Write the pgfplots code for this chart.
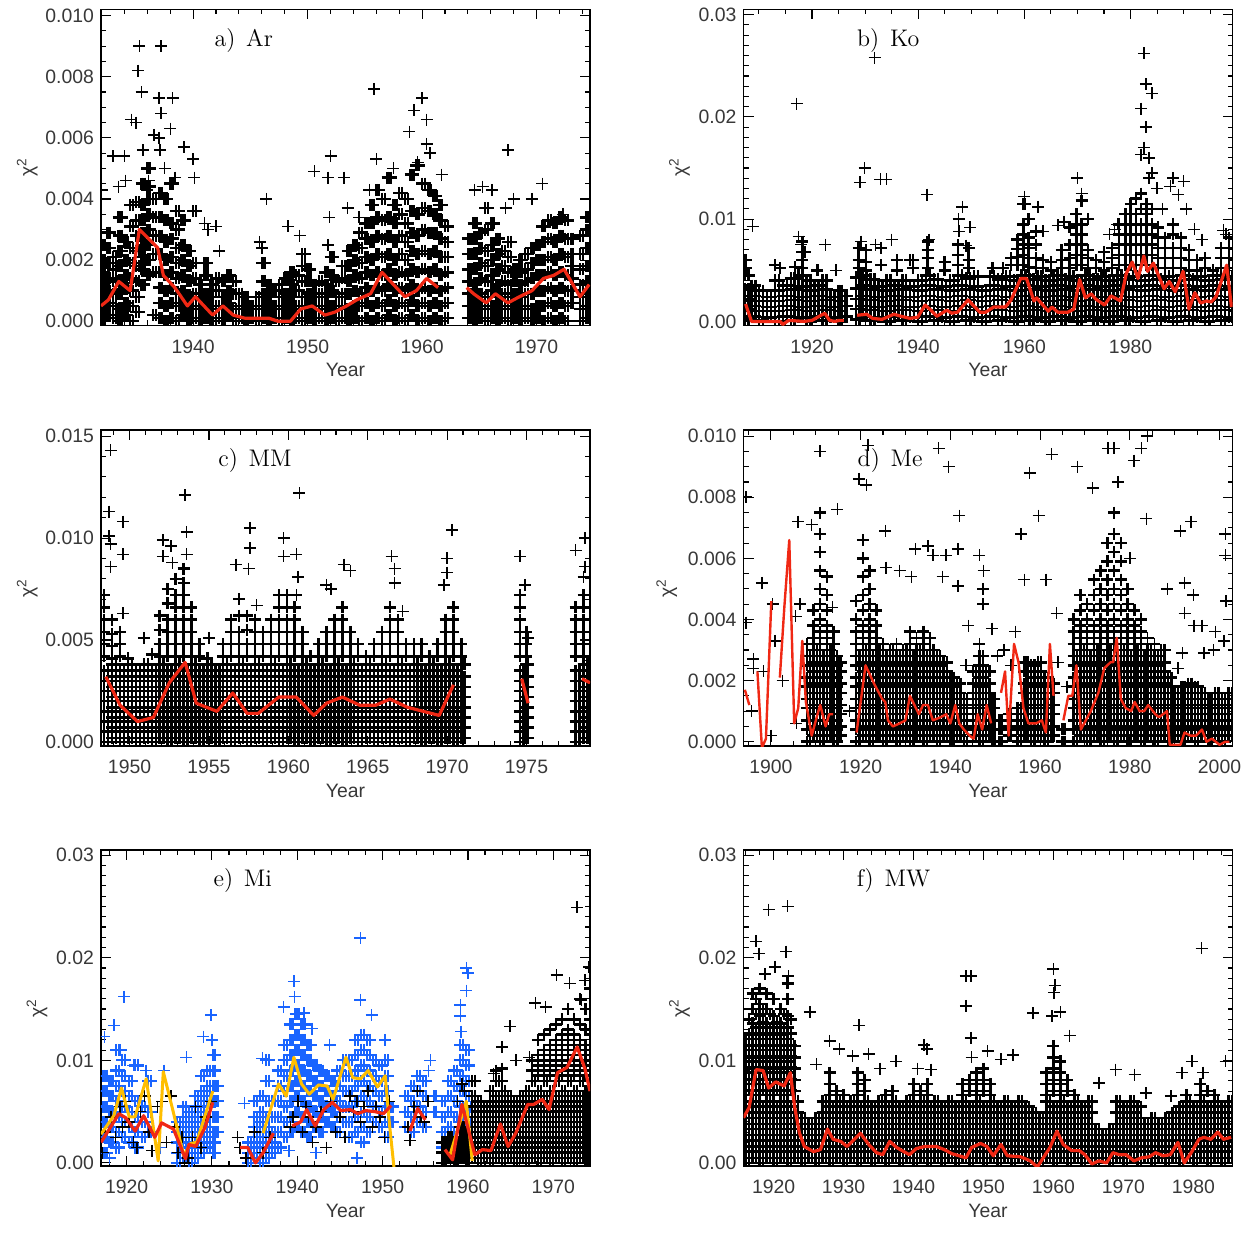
\documentclass[border=0pt]{standalone}
\usepackage{fontspec}
\usepackage{pgfplots}
\usepackage{pgfplotstable}
\pgfplotsset{compat=1.18}
\newfontfamily\tickfont{Liberation Sans}
\definecolor{redl}{RGB}{240,40,20}
\definecolor{bluep}{RGB}{25,100,255}
\definecolor{yell}{RGB}{255,190,0}
\pgfplotsset{
 panel/.style={
  scale only axis, width=244.5pt, height=158pt, anchor=south west,
  axis line style={line width=0.6pt},
  every tick/.style={black, line width=0.55pt},
  tick align=inside, major tick length=5pt, minor tick length=2.5pt,
  tick label style={font=\tickfont\fontsize{9.7}{11}\selectfont, text=black!78},
  /pgf/number format/assume math mode=true,
  x tick label style={/pgf/number format/1000 sep={}, yshift=-3.5pt},
  scaled y ticks=false,
  xlabel={Year}, ylabel={χ\textsuperscript{2}},
  label style={font=\tickfont\fontsize{9.7}{11}\selectfont, text=black!78},
  xlabel style={at={(axis description cs:0.5,-0.141)}, anchor=center},
  clip=true, clip marker paths=true,
 },
 yprec/.style={y tick label style={/pgf/number format/.cd, fixed, fixed zerofill, precision=#1}},
 ylx/.style={ylabel style={at={(axis description cs:#1,0.5)}, anchor=center}},
 pm/.style={only marks, mark=+, mark size=3pt, mark options={line width=0.75pt}, black},
 pmd/.style={only marks, mark=+, mark size=3pt, mark options={line width=1.25pt}, black},
 pb/.style={only marks, mark=+, mark size=3pt, mark options={line width=0.75pt}, bluep},
 pbd/.style={only marks, mark=+, mark size=3pt, mark options={line width=1.1pt}, bluep},
 rl/.style={mark=none, line width=1.6pt, redl, line join=round},
 yl/.style={mark=none, line width=1.5pt, yell, line join=round},
}
\newcommand{\plab}[2]{\node[font=\fontsize{12}{14}\selectfont] at (rel axis cs:#1,0.903) {#2};}

% ---------------- Panel a ----------------
\pgfplotstableread{
x u a b c d e f g h
1932.0 1932.25 .0000 .0004 .0008 .0012 .0016 .0020 .0025 nan
1932.5 1932.75 .0002 .0006 .0010 .0014 .0019 .0024 .0029 nan
1933.0 1933.25 .0001 .0005 .0009 .0013 .0017 .0021 nan nan
1933.5 1933.75 .0000 .0004 .0009 .0013 .0018 .0023 .0028 .0034
1934.0 1934.25 .0002 .0006 .0011 .0015 .0020 .0026 nan nan
1934.5 1934.75 .0000 .0005 .0010 .0014 .0019 .0024 .0031 .0038
1935.0 1935.25 .0003 .0008 .0013 .0018 .0023 .0028 .0033 .0039
1935.5 1935.75 .0012 .0017 .0021 .0025 .0029 .0033 .0038 .0045
1936.0 1936.25 .0015 .0020 .0025 .0030 .0035 .0040 .0044 .0050
1936.5 1936.75 .0002 .0016 .0022 .0028 .0034 .0040 nan nan
1937.0 1937.25 .0001 .0006 .0011 .0016 .0022 .0028 .0034 .0042
1937.5 1937.75 .0000 .0005 .0010 .0015 .0020 .0026 .0033 .0040
1938.0 1938.25 .0001 .0006 .0011 .0016 .0021 .0027 .0032 .0045
1938.5 1938.75 .0000 .0005 .0009 .0014 .0019 .0024 .0030 .0036
1939.0 1939.25 .0002 .0006 .0010 .0015 .0020 .0025 .0033 nan
1939.5 1939.75 .0000 .0004 .0008 .0013 .0018 .0023 nan nan
1940.0 1940.25 .0001 .0005 .0009 .0014 .0019 .0036 nan nan
1940.5 1940.75 .0000 .0004 .0008 .0012 nan nan nan nan
1941.0 1941.25 .0001 .0005 .0009 .0015 .0019 nan nan nan
1941.5 1941.75 .0000 .0004 .0008 .0012 nan nan nan nan
1942.0 1942.25 .0001 .0005 .0010 .0014 nan nan nan nan
1942.5 1942.75 .0000 .0004 .0008 .0013 nan nan nan nan
1943.0 1943.25 .0002 .0006 .0010 .0015 nan nan nan nan
1943.5 1943.75 .0000 .0004 .0009 .0013 nan nan nan nan
1944.0 1944.25 .0001 .0005 .0009 nan nan nan nan nan
1944.5 1944.75 .0000 .0004 .0008 nan nan nan nan nan
1945.0 1945.25 .0001 .0005 nan nan nan nan nan nan
1945.5 1945.75 .0000 .0004 .0008 nan nan nan nan nan
1946.0 1946.25 .0001 .0005 .0009 .0013 .0019 nan nan nan
1946.5 1946.75 .0000 .0004 .0008 .0012 nan nan nan nan
1947.0 1947.25 .0001 .0005 .0010 nan nan nan nan nan
1947.5 1947.75 .0000 .0004 .0008 .0012 nan nan nan nan
1948.0 1948.25 .0001 .0005 .0009 .0014 nan nan nan nan
1948.5 1948.75 .0000 .0004 .0008 .0012 .0016 nan nan nan
1949.0 1949.25 .0001 .0005 .0010 .0015 nan nan nan nan
1949.5 1949.75 .0000 .0004 .0008 .0013 .0018 .0022 nan nan
1950.0 1950.25 .0001 .0005 .0009 .0013 .0017 nan nan nan
1950.5 1950.75 .0000 .0004 .0008 .0012 nan nan nan nan
1951.0 1951.25 .0001 .0005 .0009 .0013 nan nan nan nan
1951.5 1951.75 .0000 .0004 .0008 .0012 .0016 nan nan nan
1952.0 1952.25 .0001 .0005 .0010 .0015 .0021 nan nan nan
1952.5 1952.75 .0000 .0004 .0008 .0013 nan nan nan nan
1953.0 1953.25 .0001 .0005 .0009 .0014 .0018 nan nan nan
1953.5 1953.75 .0000 .0004 .0009 .0013 .0018 .0023 nan nan
1954.0 1954.25 .0001 .0005 .0010 .0015 .0020 .0025 nan nan
1954.5 1954.75 .0000 .0005 .0009 .0014 .0019 .0024 .0029 nan
1955.0 1955.25 .0001 .0006 .0011 .0016 .0021 .0027 .0032 nan
1955.5 1955.75 .0000 .0005 .0010 .0015 .0020 .0026 .0032 .0038
1956.0 1956.25 .0001 .0006 .0011 .0016 .0022 .0028 .0034 .0043
1956.5 1956.75 .0000 .0005 .0010 .0015 .0021 .0027 .0033 .0040
1957.0 1957.25 .0002 .0007 .0012 .0017 .0022 .0028 .0034 .0047
1957.5 1957.75 .0000 .0005 .0010 .0015 .0020 .0026 .0032 .0038
1958.0 1958.25 .0001 .0006 .0011 .0016 .0022 .0028 .0035 .0042
1958.5 1958.75 .0000 .0005 .0010 .0015 .0020 .0026 .0032 .0040
1959.0 1959.25 .0002 .0007 .0012 .0017 .0023 .0029 .0036 .0048
1959.5 1959.75 .0000 .0005 .0010 .0016 .0022 .0028 .0035 .0051
1960.0 1960.25 .0001 .0006 .0011 .0017 .0023 .0030 .0037 .0045
1960.5 1960.75 .0000 .0005 .0010 .0016 .0022 .0029 .0036 .0043
1961.0 1961.25 .0001 .0006 .0011 .0017 .0023 .0029 .0035 .0041
1961.5 1961.75 .0000 .0005 .0010 .0015 .0021 .0027 .0033 .0038
1962.0 1962.25 .0001 .0006 .0011 .0016 .0021 .0026 .0031 nan
1964.0 1964.25 .0001 .0005 .0009 .0013 .0017 .0022 .0027 nan
1964.5 1964.75 .0000 .0004 .0008 .0012 .0017 .0022 .0027 .0032
1965.0 1965.25 .0001 .0005 .0009 .0014 .0019 .0024 .0029 nan
1965.5 1965.75 .0000 .0004 .0008 .0013 .0018 .0023 .0030 .0037
1966.0 1966.25 .0001 .0005 .0010 .0015 .0020 .0025 .0032 nan
1966.5 1966.75 .0000 .0004 .0008 .0012 .0017 .0022 .0027 nan
1967.0 1967.25 .0001 .0005 .0009 .0013 .0018 .0023 nan nan
1967.5 1967.75 .0000 .0004 .0008 .0012 .0016 .0021 .0026 nan
1968.0 1968.25 .0001 .0005 .0009 .0013 .0017 nan nan nan
1968.5 1968.75 .0000 .0004 .0008 .0012 .0016 .0020 nan nan
1969.0 1969.25 .0001 .0005 .0009 .0013 .0017 .0022 nan nan
1969.5 1969.75 .0000 .0004 .0009 .0014 .0019 .0024 nan nan
1970.0 1970.25 .0001 .0005 .0010 .0015 .0020 .0025 nan nan
1970.5 1970.75 .0000 .0005 .0010 .0015 .0020 .0026 .0031 nan
1971.0 1971.25 .0001 .0006 .0011 .0016 .0021 .0027 .0033 nan
1971.5 1971.75 .0000 .0005 .0010 .0015 .0020 .0026 .0032 nan
1972.0 1972.25 .0001 .0006 .0011 .0016 .0022 .0028 .0034 nan
1972.5 1972.75 .0000 .0005 .0010 .0015 .0021 .0027 .0033 nan
1973.0 1973.2 .0006 .0010 .0014 .0018 .0022 .0027 nan nan
1973.8 1974.05 .0000 .0004 .0008 .0012 .0017 .0022 .0028 nan
1974.3 1974.55 .0001 .0005 .0009 .0013 .0018 .0024 .0030 .0034
}\tA
\pgfplotstableread[row sep=\\]{
x y\\
1935.3 .0090\\1937.2 .0090\\1935.2 .0082\\1935.5 .0075\\1937.0 .0073\\1938.2 .0073\\
1937.2 .0068\\1934.6 .0066\\1935.0 .0065\\1938.0 .0063\\1936.6 .0061\\1937.0 .0060\\
1939.2 .0057\\1940.0 .0053\\1933.0 .0054\\1934.0 .0054\\1935.6 .0056\\1937.1 .0056\\
1934.1 .0046\\1933.5 .0044\\1937.5 .0050\\1940.1 .0047\\1938.4 .0047\\1936.1 .0046\\
1941.0 .0032\\1942.0 .0031\\1941.3 .0030\\1942.3 .0023\\1946.4 .0040\\1945.8 .0026\\
1946.0 .0024\\1948.3 .0031\\1949.3 .0028\\1950.6 .0049\\1952.0 .0054\\1951.8 .0047\\
1953.2 .0047\\1953.5 .0037\\1954.5 .0034\\1951.9 .0034\\1951.8 .0025\\1955.8 .0076\\
1956.0 .0053\\1955.4 .0043\\1958.9 .0062\\1959.3 .0069\\1960.0 .0073\\1960.4 .0066\\
1960.4 .0058\\1960.7 .0055\\1959.6 .0052\\1961.7 .0048\\1957.5 .0050\\1965.3 .0044\\
1964.6 .0043\\1966.1 .0043\\1965.8 .0037\\1967.5 .0056\\1968.0 .0040\\1967.3 .0037\\
1969.6 .0040\\1970.5 .0045\\1972.3 .0035\\1974.6 .0034\\1932.0 .0043\\1936.0 .0043\\
}\tAo

% ---------------- Panel b ----------------
\pgfplotstableread{
x u a b c d e
1907.3 1908.05 .0002 .0012 .0022 .0032 .0045
1908.6 1909.35 .0005 .0015 .0025 .0035 nan
1910.0 1910.75 .0001 .0010 .0020 .0030 nan
1911.5 1912.25 .0004 .0014 .0024 nan nan
1913.0 1913.75 .0000 .0010 .0020 .0030 .0040
1914.5 1915.25 .0005 .0015 .0025 .0035 nan
1916.0 1916.75 .0001 .0011 .0021 .0031 .0042
1917.5 1918.25 .0004 .0014 .0024 .0034 .0045
1919.0 1919.75 .0000 .0010 .0020 .0030 .0040
1920.5 1921.25 .0005 .0015 .0025 .0035 nan
1922.0 1922.75 .0001 .0011 .0021 .0031 .0040
1923.5 1924.25 .0004 .0014 .0024 nan nan
1925.0 1925.6 .0000 .0010 .0020 .0030 nan
1926.2 1926.6 .0005 .0015 .0025 nan nan
1928.3 1928.9 .0002 .0012 .0022 .0032 .0043
1929.5 1930.25 .0005 .0015 .0025 .0035 .0045
1931.0 1931.75 .0001 .0011 .0021 .0031 .0041
1932.5 1933.25 .0004 .0014 .0024 .0034 nan
1934.0 1934.75 .0000 .0010 .0020 .0030 .0040
1935.5 1936.25 .0005 .0015 .0025 .0035 nan
1937.0 1937.75 .0001 .0011 .0021 .0031 .0040
1938.5 1939.25 .0004 .0014 .0024 .0034 nan
1940.0 1940.75 .0000 .0010 .0020 .0030 .0040
1941.5 1942.25 .0005 .0015 .0025 .0035 .0045
1943.0 1943.75 .0001 .0011 .0021 .0031 .0041
1944.5 1945.25 .0004 .0014 .0024 .0034 nan
1946.0 1946.75 .0000 .0010 .0020 .0030 .0040
1947.5 1948.25 .0005 .0015 .0025 .0035 .0045
1949.0 1949.75 .0001 .0011 .0021 .0031 .0042
1950.5 1951.25 .0004 .0014 .0024 .0034 .0044
1952.0 1952.75 .0000 .0010 .0020 .0030 nan
1953.5 1954.25 .0005 .0015 .0025 .0035 .0044
1955.0 1955.75 .0001 .0011 .0021 .0031 .0041
1956.5 1957.25 .0004 .0014 .0024 .0034 .0044
1958.0 1958.75 .0000 .0010 .0020 .0030 .0040
1959.5 1960.25 .0005 .0015 .0025 .0035 .0045
1961.0 1961.75 .0001 .0011 .0021 .0031 .0041
1962.5 1963.25 .0004 .0014 .0024 .0034 .0044
1964.0 1964.75 .0000 .0010 .0020 .0030 .0040
1965.5 1966.25 .0005 .0015 .0025 .0035 .0045
1967.0 1967.75 .0001 .0011 .0021 .0031 .0041
1968.5 1969.25 .0004 .0014 .0024 .0034 .0044
1970.0 1970.75 .0000 .0010 .0020 .0030 .0040
1971.5 1972.25 .0005 .0015 .0025 .0035 .0045
1973.0 1973.75 .0001 .0011 .0021 .0031 .0041
1974.5 1975.25 .0004 .0014 .0024 .0034 .0044
1976.0 1976.75 .0000 .0010 .0020 .0030 .0040
1977.5 1978.25 .0005 .0015 .0025 .0035 .0045
1979.0 1979.75 .0001 .0011 .0021 .0031 .0041
1980.5 1981.25 .0004 .0014 .0024 .0034 .0044
1982.0 1982.75 .0000 .0010 .0020 .0030 .0040
1983.5 1984.25 .0005 .0015 .0025 .0035 .0045
1985.0 1985.75 .0001 .0011 .0021 .0031 .0041
1986.5 1987.25 .0004 .0014 .0024 .0034 .0044
1988.0 1988.75 .0000 .0010 .0020 .0030 .0040
1989.5 1990.25 .0005 .0015 .0025 .0035 .0045
1991.0 1991.75 .0001 .0011 .0021 .0031 .0041
1992.5 1993.25 .0004 .0014 .0024 .0034 .0044
1994.0 1994.75 .0000 .0010 .0020 .0030 .0040
1995.5 1996.25 .0005 .0015 .0025 .0035 .0045
1997.0 1997.75 .0001 .0011 .0021 .0031 .0041
1998.5 1999.1 .0004 .0014 .0024 .0034 .0044
}\tB
\pgfplotstableread{
x a b c d e f g
1907.5 .0052 .0060 nan nan nan nan nan
1916.8 .0053 nan nan nan nan nan nan
1918.2 .0052 .0060 .0068 .0078 nan nan nan
1921.0 .0050 nan nan nan nan nan nan
1928.8 .0052 .0060 .0072 nan nan nan nan
1930.2 .0050 .0058 .0070 nan nan nan nan
1933.0 .0055 .0072 nan nan nan nan nan
1936.0 .0050 .0060 nan nan nan nan nan
1939.0 .0052 .0060 nan nan nan nan nan
1941.8 .0052 .0062 .0070 .0078 nan nan nan
1945.0 .0050 .0058 nan nan nan nan nan
1947.5 .0055 .0065 .0075 nan nan nan nan
1949.5 .0052 .0060 .0072 nan nan nan nan
1954.0 .0052 nan nan nan nan nan nan
1956.0 .0052 nan nan nan nan nan nan
1957.5 .0055 .0062 nan nan nan nan nan
1958.7 .0055 .0063 .0071 .0080 nan nan nan
1959.8 .0055 .0065 .0075 .0085 .0095 .0115 nan
1960.8 .0053 .0062 .0072 .0082 .0100 nan nan
1962.2 .0052 .0062 .0075 .0088 nan nan nan
1963.5 .0052 .0060 nan nan nan nan nan
1965.0 .0050 .0058 nan nan nan nan nan
1967.0 .0052 .0060 .0070 nan nan nan nan
1968.5 .0052 .0062 .0075 .0092 nan nan nan
1969.8 .0055 .0065 .0075 .0085 .0095 .0105 nan
1970.8 .0055 .0065 .0075 .0085 .0095 .0118 nan
1972.0 .0052 .0062 .0070 nan nan nan nan
1973.5 .0052 .0060 nan nan nan nan nan
1975.0 .0050 .0058 .0068 nan nan nan nan
1976.5 .0052 .0062 .0072 nan nan nan nan
1977.8 .0055 .0065 .0075 .0085 .0095 nan nan
1979.0 .0055 .0065 .0075 .0085 .0095 .0105 nan
1980.0 .0055 .0065 .0075 .0085 .0095 .0105 .0115
1981.0 .0055 .0065 .0075 .0085 .0095 .0105 .0120
1982.0 .0055 .0065 .0075 .0085 .0095 .0110 .0125
1983.0 .0055 .0065 .0075 .0085 .0095 .0105 .0115
1984.0 .0055 .0065 .0075 .0085 .0095 .0110 nan
1985.2 .0052 .0062 .0072 .0082 .0092 nan nan
1986.5 .0052 .0062 .0072 .0082 nan nan nan
1988.0 .0052 .0062 .0072 .0085 .0095 nan nan
1989.5 .0052 .0062 .0072 .0082 nan nan nan
1991.0 .0050 .0060 .0070 nan nan nan nan
1992.5 .0050 .0060 nan nan nan nan nan
1994.0 .0052 .0062 nan nan nan nan nan
1995.5 .0050 nan nan nan nan nan nan
1997.0 .0052 .0062 .0072 nan nan nan nan
1998.5 .0052 .0062 .0072 .0082 nan nan nan
}\tBu
\pgfplotstableread[row sep=\\]{
x y\\
1917.1 .0213\\1908.8 .0093\\1917.5 .0083\\1918.0 .0075\\1918.7 .0068\\1922.5 .0075\\
1924.5 .0050\\1913.0 .0055\\1914.0 .0052\\1929.0 .0136\\1929.9 .0150\\1931.8 .0258\\
1932.9 .0139\\1934.0 .0139\\1929.2 .0078\\1932.0 .0075\\1935.0 .0080\\1941.7 .0124\\
1942.0 .0080\\1947.6 .0100\\1948.3 .0112\\1947.7 .0088\\1949.8 .0092\\1949.0 .0074\\
1938.5 .0060\\1960.0 .0122\\1960.2 .0115\\1962.6 .0112\\1963.5 .0088\\1966.3 .0094\\
1967.5 .0097\\1970.0 .0140\\1970.8 .0125\\1972.0 .0100\\1977.5 .0095\\1982.0 .0208\\
1982.9 .0232\\1982.5 .0262\\1984.0 .0223\\1982.9 .0190\\1982.5 .0170\\1982.0 .0163\\
1983.5 .0160\\1984.0 .0145\\1983.5 .0140\\1988.0 .0140\\1987.5 .0132\\1990.0 .0137\\
1989.0 .0124\\1990.5 .0110\\1992.0 .0090\\1993.5 .0080\\1997.5 .0089\\1998.0 .0085\\
1977.0 .0090\\1976.0 .0085\\1985.0 .0130\\1986.0 .0110\\
}\tBo

% ---------------- Panel c ----------------
\pgfplotstableread{
x u a b c d e f g h
1948.4 1948.65 .0000 .0005 .0010 .0015 .0020 .0025 .0030 .0035
1948.9 1949.15 .0002 .0007 .0012 .0017 .0022 .0027 .0032 .0038
1949.4 1949.65 .0000 .0005 .0010 .0015 .0020 .0025 .0030 .0035
1949.9 1950.15 .0002 .0007 .0012 .0017 .0022 .0027 .0032 .0038
1950.4 1950.65 .0000 .0005 .0010 .0015 .0020 .0025 .0030 .0035
1950.9 1951.15 .0002 .0007 .0012 .0017 .0022 .0027 .0032 .0038
1951.4 1951.65 .0000 .0005 .0010 .0015 .0020 .0025 .0030 .0035
1951.9 1952.15 .0002 .0007 .0012 .0017 .0022 .0027 .0032 .0038
1952.4 1952.65 .0000 .0005 .0010 .0015 .0020 .0025 .0030 .0035
1952.9 1953.15 .0002 .0007 .0012 .0017 .0022 .0027 .0032 .0038
1953.4 1953.65 .0000 .0005 .0010 .0015 .0020 .0025 .0030 .0035
1953.9 1954.15 .0002 .0007 .0012 .0017 .0022 .0027 .0032 .0038
1954.4 1954.65 .0000 .0005 .0010 .0015 .0020 .0025 .0030 .0035
1954.9 1955.15 .0002 .0007 .0012 .0017 .0022 .0027 .0032 .0038
1955.4 1955.65 .0000 .0005 .0010 .0015 .0020 .0025 .0030 .0035
1955.9 1956.15 .0002 .0007 .0012 .0017 .0022 .0027 .0032 .0038
1956.4 1956.65 .0000 .0005 .0010 .0015 .0020 .0025 .0030 .0035
1956.9 1957.15 .0002 .0007 .0012 .0017 .0022 .0027 .0032 .0038
1957.4 1957.65 .0000 .0005 .0010 .0015 .0020 .0025 .0030 .0035
1957.9 1958.15 .0002 .0007 .0012 .0017 .0022 .0027 .0032 .0038
1958.4 1958.65 .0000 .0005 .0010 .0015 .0020 .0025 .0030 .0035
1958.9 1959.15 .0002 .0007 .0012 .0017 .0022 .0027 .0032 .0038
1959.4 1959.65 .0000 .0005 .0010 .0015 .0020 .0025 .0030 .0035
1959.9 1960.15 .0002 .0007 .0012 .0017 .0022 .0027 .0032 .0038
1960.4 1960.65 .0000 .0005 .0010 .0015 .0020 .0025 .0030 .0035
1960.9 1961.15 .0002 .0007 .0012 .0017 .0022 .0027 .0032 .0038
1961.4 1961.65 .0000 .0005 .0010 .0015 .0020 .0025 .0030 .0035
1961.9 1962.15 .0002 .0007 .0012 .0017 .0022 .0027 .0032 .0038
1962.4 1962.65 .0000 .0005 .0010 .0015 .0020 .0025 .0030 .0035
1962.9 1963.15 .0002 .0007 .0012 .0017 .0022 .0027 .0032 .0038
1963.4 1963.65 .0000 .0005 .0010 .0015 .0020 .0025 .0030 .0035
1963.9 1964.15 .0002 .0007 .0012 .0017 .0022 .0027 .0032 .0038
1964.4 1964.65 .0000 .0005 .0010 .0015 .0020 .0025 .0030 .0035
1964.9 1965.15 .0002 .0007 .0012 .0017 .0022 .0027 .0032 .0038
1965.4 1965.65 .0000 .0005 .0010 .0015 .0020 .0025 .0030 .0035
1965.9 1966.15 .0002 .0007 .0012 .0017 .0022 .0027 .0032 .0038
1966.4 1966.65 .0000 .0005 .0010 .0015 .0020 .0025 .0030 .0035
1966.9 1967.15 .0002 .0007 .0012 .0017 .0022 .0027 .0032 .0038
1967.4 1967.65 .0000 .0005 .0010 .0015 .0020 .0025 .0030 .0035
1967.9 1968.15 .0002 .0007 .0012 .0017 .0022 .0027 .0032 .0038
1968.4 1968.65 .0000 .0005 .0010 .0015 .0020 .0025 .0030 .0035
1968.9 1969.15 .0002 .0007 .0012 .0017 .0022 .0027 .0032 .0038
1969.4 1969.65 .0000 .0005 .0010 .0015 .0020 .0025 .0030 .0035
1969.9 1970.15 .0002 .0007 .0012 .0017 .0022 .0027 .0032 .0038
1970.4 1970.65 .0000 .0005 .0010 .0015 .0020 .0025 .0030 .0035
1970.9 1971.1 .0002 .0007 .0012 .0017 .0022 .0027 .0032 .0038
1974.6 1974.8 .0000 .0005 .0010 .0015 .0020 .0025 .0030 .0035
1975.0 1975.1 .0002 .0007 .0012 .0017 .0022 .0027 .0032 .0038
1978.1 1978.35 .0000 .0005 .0010 .0015 .0020 .0025 .0030 .0035
1978.6 1978.85 .0002 .0007 .0012 .0017 .0022 .0027 .0032 .0038
1979.0 1979.1 .0000 .0005 .0010 .0015 .0020 .0025 .0030 .0035
}\tC
\pgfplotstableread{
x a b c d e f g h
1948.4 .0042 .0048 .0054 .0060 .0066 .0072 nan nan
1948.9 .0041 .0047 .0053 .0060 nan nan nan nan
1949.4 .0042 .0048 .0054 nan nan nan nan nan
1949.9 .0041 nan nan nan nan nan nan nan
1951.4 .0043 nan nan nan nan nan nan nan
1951.9 .0042 .0048 .0055 .0062 nan nan nan nan
1952.4 .0042 .0048 .0054 .0060 .0068 .0075 nan nan
1952.9 .0042 .0048 .0054 .0060 .0066 .0072 .0080 nan
1953.4 .0042 .0048 .0054 .0060 .0066 .0072 .0078 .0085
1953.9 .0042 .0048 .0054 .0060 .0066 nan nan nan
1954.4 .0042 .0048 nan nan nan nan nan nan
1954.9 .0041 nan nan nan nan nan nan nan
1955.9 .0042 .0048 nan nan nan nan nan nan
1956.4 .0042 .0048 .0054 .0060 nan nan nan nan
1956.9 .0042 .0048 .0054 .0062 .0070 nan nan nan
1957.4 .0042 .0048 .0055 .0062 nan nan nan nan
1957.9 .0042 .0048 .0054 .0060 nan nan nan nan
1958.4 .0042 .0048 .0054 nan nan nan nan nan
1958.9 .0042 .0048 .0054 .0060 nan nan nan nan
1959.4 .0042 .0048 .0054 .0060 .0066 .0072 nan nan
1959.9 .0042 .0048 .0054 .0060 .0066 .0072 nan nan
1960.4 .0042 .0048 .0054 .0060 .0066 nan nan nan
1960.9 .0042 .0048 .0054 nan nan nan nan nan
1961.4 .0042 nan nan nan nan nan nan nan
1961.9 .0042 .0048 nan nan nan nan nan nan
1962.4 .0042 .0048 .0054 nan nan nan nan nan
1962.9 .0042 .0048 .0054 .0060 nan nan nan nan
1963.4 .0042 .0048 .0054 .0060 .0066 nan nan nan
1963.9 .0042 .0048 .0054 nan nan nan nan nan
1964.4 .0042 .0048 nan nan nan nan nan nan
1964.9 .0042 nan nan nan nan nan nan nan
1965.4 .0042 .0048 nan nan nan nan nan nan
1965.9 .0042 .0048 .0054 nan nan nan nan nan
1966.4 .0042 .0048 .0054 .0060 .0066 nan nan nan
1966.9 .0042 .0048 .0054 .0060 nan nan nan nan
1967.4 .0042 .0048 nan nan nan nan nan nan
1967.9 .0042 .0048 nan nan nan nan nan nan
1968.4 .0042 .0048 nan nan nan nan nan nan
1968.9 .0042 nan nan nan nan nan nan nan
1969.4 .0042 .0048 nan nan nan nan nan nan
1969.9 .0042 .0048 .0054 .0060 nan nan nan nan
1970.4 .0042 .0048 .0054 .0060 .0066 nan nan nan
1970.9 .0042 .0048 nan nan nan nan nan nan
1974.6 .0042 .0048 .0054 .0060 .0066 .0072 nan nan
1975.0 .0042 .0048 .0054 nan nan nan nan nan
1978.1 .0042 .0048 .0054 .0060 .0066 nan nan nan
1978.6 .0042 .0048 .0054 .0060 .0066 .0072 nan nan
1979.0 .0042 .0048 .0054 nan nan nan nan nan
}\tCu
\pgfplotstableread[row sep=\\]{
x y\\
1948.8 .0143\\1948.7 .0113\\1948.7 .0101\\1948.8 .0097\\1948.8 .0086\\1949.6 .0108\\
1949.6 .0092\\1949.6 .0063\\1950.9 .0051\\1952.1 .0099\\1952.1 .0091\\1952.6 .0096\\
1952.7 .0088\\1953.5 .0121\\1953.6 .0103\\1953.6 .0092\\1955.0 .0051\\1956.7 .0087\\
1957.6 .0105\\1957.6 .0095\\1957.5 .0085\\1958.0 .0067\\1959.7 .0100\\1959.7 .0091\\
1960.5 .0092\\1960.7 .0122\\1960.6 .0081\\1960.5 .0072\\1962.4 .0077\\1962.7 .0075\\
1963.5 .0087\\1963.9 .0084\\1966.5 .0091\\1966.7 .0085\\1966.7 .0078\\1967.2 .0064\\
1969.8 .0077\\1970.0 .0090\\1970.0 .0083\\1970.3 .0104\\1974.6 .0091\\1974.9 .0077\\
1978.1 .0094\\1978.7 .0100\\1978.7 .0086\\1978.6 .0081\\1975.1 .0051\\
}\tCo

% ---------------- Panel d ----------------
\pgfplotstableread{
x u a b c d e f g h i
1908.0 1908.75 .0000 .0004 .0007 .0011 .0014 .0018 .0021 .0025 .0028
1909.5 1910.25 .0002 .0005 .0009 .0012 .0016 .0019 .0023 .0026 .0030
1911.0 1911.75 .0000 .0004 .0007 .0011 .0014 .0018 .0021 .0025 .0028
1912.5 1913.25 .0002 .0005 .0009 .0012 .0016 .0019 .0023 .0026 .0030
1914.0 1914.75 .0000 .0004 .0007 .0011 .0014 .0018 .0021 .0025 .0028
1915.3 1915.6 .0002 .0005 .0009 .0012 .0016 .0019 .0023 .0026 nan
1919.0 1919.75 .0000 .0004 .0007 .0011 .0014 .0018 .0021 .0025 .0028
1920.5 1921.25 .0002 .0005 .0009 .0012 .0016 .0019 .0023 .0026 .0030
1922.0 1922.75 .0000 .0004 .0007 .0011 .0014 .0018 .0021 .0025 .0028
1923.5 1924.25 .0002 .0005 .0009 .0012 .0016 .0019 .0023 .0026 .0030
1925.0 1925.75 .0000 .0004 .0007 .0011 .0014 .0018 .0021 .0025 .0028
1926.5 1927.25 .0002 .0005 .0009 .0012 .0016 .0019 .0023 .0026 .0030
1928.0 1928.75 .0000 .0004 .0007 .0011 .0014 .0018 .0021 .0025 .0028
1929.5 1930.25 .0002 .0005 .0009 .0012 .0016 .0019 .0023 .0026 .0030
1931.0 1931.75 .0000 .0004 .0007 .0011 .0014 .0018 .0021 .0025 .0028
1932.5 1933.25 .0002 .0005 .0009 .0012 .0016 .0019 .0023 .0026 .0030
1934.0 1934.75 .0000 .0004 .0007 .0011 .0014 .0018 .0021 .0025 .0028
1935.5 1936.25 .0002 .0005 .0009 .0012 .0016 .0019 .0023 .0026 .0030
1937.0 1937.75 .0000 .0004 .0007 .0011 .0014 .0018 .0021 .0025 .0028
1938.5 1939.25 .0002 .0005 .0009 .0012 .0016 .0019 .0023 .0026 nan
1940.0 1940.75 .0000 .0004 .0007 .0011 .0014 .0018 .0021 nan nan
1941.5 1942.25 .0002 .0005 .0009 .0012 .0016 .0019 nan nan nan
1943.0 1943.75 .0000 .0004 .0007 .0011 .0014 nan nan nan nan
1945.0 1945.75 .0002 .0005 .0009 .0012 .0016 .0019 .0023 nan nan
1946.5 1947.25 .0000 .0004 .0007 .0011 .0014 .0018 .0021 .0025 .0028
1948.0 1948.75 .0002 .0005 .0009 .0012 .0016 .0019 .0023 nan nan
1949.3 1949.8 .0000 .0004 .0007 .0011 .0014 nan nan nan nan
1951.0 1951.5 .0000 .0004 .0007 nan nan nan nan nan nan
1953.0 1953.5 .0002 .0005 .0009 nan nan nan nan nan nan
1955.0 1955.75 .0000 .0004 .0007 .0011 nan nan nan nan nan
1956.5 1957.25 .0002 .0005 .0009 .0012 .0016 .0019 .0023 .0026 nan
1958.0 1958.75 .0000 .0004 .0007 .0011 .0014 .0018 .0021 .0025 nan
1959.5 1960.25 .0002 .0005 .0009 .0012 .0016 .0019 .0023 .0026 nan
1961.0 1961.75 .0000 .0004 .0007 .0011 .0014 .0018 .0021 nan nan
1962.5 1963.0 .0002 .0005 .0009 .0012 .0016 .0019 nan nan nan
1965.0 1965.5 .0000 .0004 nan nan nan nan nan nan nan
1967.5 1968.25 .0000 .0004 .0007 .0011 .0014 .0018 .0021 .0025 .0028
1969.0 1969.75 .0002 .0005 .0009 .0012 .0016 .0019 .0023 .0026 .0030
1970.5 1971.25 .0000 .0004 .0007 .0011 .0014 .0018 .0021 .0025 .0028
1972.0 1972.75 .0002 .0005 .0009 .0012 .0016 .0019 .0023 .0026 .0030
1973.5 1974.25 .0000 .0004 .0007 .0011 .0014 .0018 .0021 .0025 .0028
1975.0 1975.75 .0002 .0005 .0009 .0012 .0016 .0019 .0023 .0026 .0030
1976.5 1977.25 .0000 .0004 .0007 .0011 .0014 .0018 .0021 .0025 .0028
1978.0 1978.75 .0002 .0005 .0009 .0012 .0016 .0019 .0023 .0026 .0030
1979.5 1980.25 .0000 .0004 .0007 .0011 .0014 .0018 .0021 .0025 .0028
1981.0 1981.75 .0002 .0005 .0009 .0012 .0016 .0019 .0023 .0026 .0030
1982.5 1983.25 .0000 .0004 .0007 .0011 .0014 .0018 .0021 .0025 .0028
1984.0 1984.75 .0002 .0005 .0009 .0012 .0016 .0019 .0023 .0026 .0030
1985.5 1986.25 .0000 .0004 .0007 .0011 .0014 .0018 .0021 .0025 .0028
1987.0 1987.75 .0002 .0005 .0009 .0012 .0016 .0019 .0023 .0026 .0030
1988.5 1989.25 .0000 .0004 .0007 .0011 .0014 .0018 .0021 nan nan
1990.0 1990.75 .0002 .0005 .0009 .0012 .0016 nan nan nan nan
1991.5 1992.25 .0000 .0004 .0007 .0011 .0014 .0018 nan nan nan
1993.0 1993.75 .0002 .0005 .0009 .0012 .0016 .0019 nan nan nan
1994.5 1995.25 .0000 .0004 .0007 .0011 .0014 .0018 nan nan nan
1996.0 1996.75 .0002 .0005 .0009 .0012 .0016 nan nan nan nan
1997.5 1998.25 .0000 .0004 .0007 .0011 .0014 nan nan nan nan
1999.0 1999.75 .0002 .0005 .0009 .0012 .0016 nan nan nan nan
2000.5 2001.25 .0000 .0004 .0007 .0011 .0014 nan nan nan nan
2002.0 2002.75 .0002 .0005 .0009 .0012 .0016 nan nan nan nan
}\tD
\pgfplotstableread{
x a b c d e f g h i
1909.5 .0034 .0038 .0043 nan nan nan nan nan nan
1911.0 .0032 .0036 .0040 .0045 .0050 .0056 .0062 .0068 .0075
1912.5 .0034 .0038 .0043 .0048 .0054 nan nan nan nan
1914.0 .0032 .0036 nan nan nan nan nan nan nan
1919.0 .0032 .0036 .0040 .0046 nan nan nan nan nan
1920.5 .0034 .0038 .0043 .0048 .0054 .0060 .0066 nan nan
1922.0 .0032 .0036 .0040 .0045 .0050 .0056 nan nan nan
1923.5 .0034 .0038 .0043 nan nan nan nan nan nan
1931.0 .0032 .0036 nan nan nan nan nan nan nan
1934.0 .0032 .0036 nan nan nan nan nan nan nan
1967.5 .0032 .0036 .0040 nan nan nan nan nan nan
1969.0 .0034 .0038 .0043 .0048 nan nan nan nan nan
1970.5 .0032 .0036 .0040 .0045 nan nan nan nan nan
1972.0 .0034 .0038 .0043 .0048 .0053 nan nan nan nan
1973.5 .0032 .0036 .0040 .0045 .0050 .0056 nan nan nan
1975.0 .0034 .0038 .0043 .0048 .0053 .0059 .0065 nan nan
1976.5 .0032 .0036 .0040 .0045 .0050 .0056 .0062 .0068 .0075
1978.0 .0034 .0038 .0043 .0048 .0053 .0059 .0065 nan nan
1979.5 .0032 .0036 .0040 .0045 .0050 nan nan nan nan
1981.0 .0034 .0038 .0043 nan nan nan nan nan nan
1982.5 .0032 .0036 .0040 nan nan nan nan nan nan
}\tDu
\pgfplotstableread[row sep=\\]{
x y\\
1908.0 .0032\\1925.0 .0032\\1928.0 .0032\\1932.5 .0034\\1935.5 .0034\\1946.5 .0032\\
1984.0 .0034\\1985.5 .0032\\
1894.5 .0080\\1894.5 .0039\\1896.1 .0027\\1896.1 .0024\\1895.7 .0010\\1898.0 .0052\\
1898.3 .0023\\1900.4 .0045\\1900.9 .0033\\1900.0 .0002\\1902.6 .0020\\1905.5 .0041\\
1906.1 .0072\\1906.5 .0045\\1905.7 .0006\\1909.1 .0071\\1910.9 .0095\\1914.8 .0076\\
1913.7 .0044\\1919.6 .0086\\1921.7 .0097\\1921.3 .0084\\1925.5 .0069\\1925.7 .0057\\
1928.7 .0056\\1931.3 .0054\\1932.2 .0063\\1935.0 .0064\\1937.4 .0096\\1939.6 .0090\\
1942.0 .0074\\1941.7 .0063\\1941.7 .0051\\1938.3 .0054\\1936.1 .0061\\1939.0 .0061\\
1946.5 .0061\\1947.4 .0056\\1947.3 .0050\\1947.3 .0045\\1949.3 .0037\\1955.7 .0068\\
1957.7 .0088\\1959.7 .0074\\1956.5 .0053\\1961.3 .0053\\1962.6 .0094\\1963.7 .0042\\
1968.3 .0090\\1971.7 .0083\\1975.2 .0096\\1976.5 .0096\\1977.4 .0085\\1980.9 .0092\\
1982.6 .0096\\1983.9 .0100\\1983.7 .0073\\1980.0 .0060\\1991.3 .0069\\1993.7 .0072\\
1992.2 .0052\\1994.2 .0048\\1994.3 .0038\\1988.4 .0050\\2001.3 .0068\\2001.3 .0061\\
2001.5 .0046\\1998.7 .0030\\1996.1 .0038\\1999.1 .0036\\2001.0 .0033\\1992.2 .0042\\
1996.5 .0029\\1991.7 .0029\\1990.8 .0024\\1952.0 .0030\\1953.5 .0025\\1954.5 .0036\\
1950.5 .0028\\1964.0 .0026\\1966.0 .0018\\1944.0 .0038\\1943.5 .0025\\1917.5 .0010\\
}\tDo

% ---------------- Panel e ----------------
\pgfplotstableread{
x u a b c d e f g h
1917.3 1917.65 .0010 .0025 .0040 .0055 .0070 .0085 nan nan
1918.0 1918.35 .0020 .0035 .0050 .0065 .0080 nan nan nan
1918.8 1919.15 .0015 .0030 .0045 .0060 .0075 .0090 .0110 nan
1919.5 1919.85 .0025 .0040 .0055 .0070 .0085 .0100 nan nan
1920.3 1920.65 .0020 .0035 .0050 .0065 .0080 nan nan nan
1921.0 1921.35 .0015 .0030 .0045 .0060 .0095 nan nan nan
1921.8 1922.15 .0025 .0040 .0055 nan nan nan nan nan
1922.5 1922.85 .0030 .0050 .0080 nan nan nan nan nan
1925.9 1926.25 .0000 .0010 .0020 .0030 .0040 nan nan nan
1926.6 1926.95 .0005 .0015 .0025 .0035 .0045 .0055 nan nan
1927.3 1927.65 .0000 .0010 .0020 .0030 .0040 .0050 nan nan
1928.0 1928.35 .0005 .0015 .0025 .0035 .0045 .0055 .0065 nan
1928.7 1929.05 .0010 .0020 .0030 .0040 .0050 .0060 .0070 .0085
1929.4 1929.75 .0015 .0025 .0035 .0045 .0055 .0065 .0075 .0090
1930.1 1930.35 .0010 .0020 .0030 .0045 .0060 .0075 .0090 .0105
1930.6 1930.7 .0030 .0045 .0060 .0075 nan nan nan nan
1934.2 1934.55 .0000 .0010 .0020 nan nan nan nan nan
1934.9 1935.25 .0005 .0015 .0025 .0035 .0045 .0060 nan nan
1935.6 1935.95 .0000 .0010 .0020 .0030 .0040 .0050 .0065 nan
1936.3 1936.65 .0005 .0015 .0025 .0035 .0045 .0060 .0080 .0100
1937.0 1937.35 .0010 .0020 .0030 .0045 .0060 nan nan nan
1937.7 1938.05 .0015 .0030 .0045 .0060 .0075 .0090 nan nan
1938.4 1938.75 .0025 .0040 .0055 .0070 .0085 .0100 .0115 nan
1939.1 1939.45 .0030 .0045 .0060 .0075 .0090 .0105 .0120 .0135
1939.8 1940.15 .0035 .0050 .0065 .0080 .0095 .0110 .0125 .0145
1940.5 1940.85 .0030 .0045 .0060 .0075 .0090 .0105 .0120 .0135
1941.2 1941.55 .0025 .0040 .0055 .0070 .0085 .0100 .0115 nan
1941.9 1942.25 .0035 .0050 .0065 .0080 .0095 nan nan nan
1942.6 1942.95 .0030 .0045 .0060 .0075 .0090 nan nan nan
1943.3 1943.65 .0040 .0055 .0070 .0085 nan nan nan nan
1944.0 1944.35 .0035 .0050 .0065 .0080 nan nan nan nan
1944.7 1945.05 .0030 .0045 .0060 .0075 .0090 nan nan nan
1945.4 1945.75 .0040 .0055 .0070 .0085 .0100 nan nan nan
1946.1 1946.45 .0025 .0040 .0055 .0070 .0085 .0100 nan nan
1946.8 1947.15 .0030 .0045 .0060 .0075 .0090 .0105 .0120 nan
1947.5 1947.85 .0020 .0035 .0050 .0065 .0080 .0095 .0110 .0125
1948.2 1948.55 .0030 .0045 .0060 .0075 .0090 .0105 .0120 nan
1948.9 1949.25 .0040 .0055 .0070 .0085 .0100 nan nan nan
1949.6 1949.95 .0035 .0050 .0065 .0080 .0095 nan nan nan
1950.3 1950.65 .0025 .0040 .0055 .0070 .0085 .0100 nan nan
1951.0 1951.2 .0040 .0055 nan nan nan nan nan nan
1952.6 1952.95 .0035 .0050 .0065 nan nan nan nan nan
1953.3 1953.65 .0030 .0045 .0060 .0075 nan nan nan nan
1954.0 1954.35 .0040 .0055 .0070 .0085 nan nan nan nan
1954.7 1955.05 .0035 .0050 .0065 .0080 nan nan nan nan
1956.0 1956.3 .0050 .0065 nan nan nan nan nan nan
1957.0 1957.35 .0000 .0015 .0030 .0045 .0060 nan nan nan
1957.7 1958.05 .0005 .0020 .0035 .0050 .0065 .0080 nan nan
1958.4 1958.75 .0000 .0015 .0030 .0045 .0060 .0075 .0090 nan
1959.1 1959.45 .0010 .0025 .0040 .0055 .0070 .0085 .0100 .0115
1959.8 1960.1 .0005 .0020 .0035 .0050 .0065 .0080 .0095 .0110
1960.4 1960.5 .0010 .0025 .0040 .0055 nan nan nan nan
}\tEb
\pgfplotstableread[row sep=\\]{
x y\\
1919.7 .0162\\1918.5 .0134\\1917.4 .0123\\1919.3 .0110\\1920.8 .0095\\1922.3 .0090\\
1924.4 .0090\\1927.0 .0103\\1929.0 .0123\\1929.9 .0144\\1930.0 .0120\\1933.8 .0058\\
1935.9 .0102\\1938.4 .0152\\1939.6 .0177\\1939.7 .0162\\1940.8 .0146\\1941.7 .0131\\
1943.8 .0115\\1947.4 .0219\\1947.4 .0159\\1948.7 .0144\\1950.3 .0120\\1955.6 .0100\\
1955.4 .0090\\1959.1 .0154\\1959.1 .0143\\1959.8 .0190\\1960.0 .0185\\1959.8 .0168\\
1959.2 .0128\\1942.2 .0010\\1947.0 .0005\\1939.0 .0012\\1924.0 .0015\\1918.0 .0005\\
}\tEbo
\pgfplotstableread[row sep=\\]{
x y\\
1917.2 .0010\\1917.5 .0030\\1918.2 .0045\\1918.7 .0025\\1919.2 .0055\\1919.5 .0035\\
1919.8 .0060\\1920.3 .0040\\1920.8 .0020\\1921.2 .0015\\1921.6 .0050\\1922.1 .0065\\
1922.6 .0030\\1923.0 .0012\\1923.6 .0055\\1924.2 .0060\\1924.7 .0020\\1925.2 .0065\\
1925.6 .0035\\1926.0 .0010\\1926.5 .0025\\1926.8 .0000\\1927.2 .0005\\1927.7 .0025\\
1928.1 .0055\\1928.7 .0015\\1929.3 .0045\\1929.9 .0060\\1933.0 .0025\\1933.3 .0015\\
1934.0 .0005\\1935.0 .0030\\1936.0 .0010\\1936.8 .0025\\1939.2 .0035\\1939.5 .0045\\
1940.1 .0060\\1940.6 .0030\\1941.0 .0055\\1941.3 .0045\\1941.8 .0020\\1942.2 .0035\\
1942.8 .0050\\1943.4 .0015\\1943.9 .0060\\1944.5 .0030\\1945.0 .0045\\1945.6 .0025\\
1946.2 .0065\\1946.6 .0050\\1947.0 .0060\\1947.4 .0040\\1947.8 .0055\\1948.3 .0070\\
1948.8 .0035\\1949.2 .0055\\1949.7 .0045\\1950.2 .0025\\1950.8 .0060\\1953.0 .0035\\
1953.2 .0022\\1953.7 .0055\\1954.1 .0070\\1954.5 .0045\\1954.9 .0040\\1955.3 .0060\\
1972.8 .0249\\1970.4 .0183\\1969.1 .0152\\1967.9 .0156\\1964.9 .0133\\1964.0 .0113\\
1965.6 .0100\\1974.2 .0191\\1973.7 .0178\\1971.9 .0175\\1973.3 .0159\\1967.2 .0103\\
1963.0 .0087\\1959.3 .0077\\1957.3 .0010\\1958.8 .0060\\1959.6 .0070\\
}\tEk
\pgfplotstableread{
x u a b c d e f g h
1957.0 1957.35 .0000 .0010 .0020 nan nan nan nan nan
1957.7 1958.05 .0005 .0015 .0025 nan nan nan nan nan
1958.4 1958.75 .0000 .0010 .0020 nan nan nan nan nan
1959.1 1959.45 .0005 .0015 .0025 .0035 nan nan nan nan
1959.8 1960.15 .0000 .0010 .0020 .0030 nan nan nan nan
1960.5 1960.85 .0005 .0015 .0025 .0035 .0045 .0055 .0065 .0080
1961.2 1961.55 .0000 .0010 .0020 .0030 .0040 .0050 .0060 nan
1961.9 1962.25 .0005 .0015 .0025 .0035 .0045 .0055 nan nan
1962.6 1962.95 .0000 .0010 .0020 .0030 .0040 .0050 .0060 .0070
1963.3 1963.65 .0005 .0015 .0025 .0035 .0045 .0055 .0065 .0080
1964.0 1964.35 .0000 .0010 .0020 .0030 .0040 .0050 .0060 .0070
1964.7 1965.05 .0005 .0015 .0025 .0035 .0045 .0055 .0065 nan
1965.4 1965.75 .0000 .0010 .0020 .0030 .0040 .0050 .0060 nan
1966.1 1966.45 .0005 .0015 .0025 .0035 .0045 .0055 .0065 nan
1966.8 1967.15 .0000 .0010 .0020 .0030 .0040 .0050 .0060 .0070
1967.5 1967.85 .0005 .0015 .0025 .0035 .0045 .0055 .0065 .0080
1968.2 1968.55 .0000 .0010 .0020 .0030 .0040 .0050 .0060 .0070
1968.9 1969.25 .0005 .0015 .0025 .0035 .0045 .0055 .0065 .0080
1969.6 1969.95 .0000 .0010 .0020 .0030 .0040 .0050 .0060 .0070
1970.3 1970.65 .0005 .0015 .0025 .0035 .0045 .0055 .0065 .0080
1971.0 1971.35 .0000 .0010 .0020 .0030 .0040 .0050 .0060 .0070
1971.7 1972.05 .0005 .0015 .0025 .0035 .0045 .0055 .0065 .0080
1972.4 1972.75 .0000 .0010 .0020 .0030 .0040 .0050 .0060 .0070
1973.1 1973.45 .0005 .0015 .0025 .0035 .0045 .0055 .0065 .0080
1973.8 1974.1 .0000 .0010 .0020 .0030 .0040 .0050 .0060 .0070
1974.3 1974.4 .0005 .0015 .0025 .0035 .0045 .0055 .0065 .0080
}\tEd
\pgfplotstableread{
x a b c d e f
1963.3 .0090 nan nan nan nan nan
1964.0 .0080 .0092 nan nan nan nan
1967.5 .0090 .0100 nan nan nan nan
1968.2 .0085 .0095 .0105 .0120 nan nan
1968.9 .0090 .0100 .0110 .0125 nan nan
1969.6 .0085 .0095 .0105 .0115 .0130 nan
1970.3 .0090 .0100 .0110 .0120 .0135 nan
1971.0 .0085 .0095 .0105 .0115 .0125 .0140
1971.7 .0090 .0100 .0110 .0120 .0130 .0150
1972.4 .0085 .0095 .0105 .0115 .0125 .0140
1973.1 .0090 .0100 .0110 .0120 .0135 .0160
1973.8 .0085 .0095 .0105 .0115 .0130 .0150
1974.3 .0090 .0100 .0110 .0125 .0140 .0170
}\tEu

% ---------------- Panel f ----------------
\pgfplotstableread{
x u a b c d e f
1916.0 1916.5 .0000 .0011 .0022 .0033 .0044 .0055
1917.0 1917.5 .0005 .0016 .0027 .0038 .0049 .0060
1918.0 1918.5 .0000 .0011 .0022 .0033 .0044 .0055
1919.0 1919.5 .0005 .0016 .0027 .0038 .0049 .0060
1920.0 1920.5 .0000 .0011 .0022 .0033 .0044 .0055
1921.0 1921.5 .0005 .0016 .0027 .0038 .0049 .0060
1922.0 1922.5 .0000 .0011 .0022 .0033 .0044 .0055
1923.0 1923.5 .0005 .0016 .0027 .0038 .0049 .0060
1924.0 1924.5 .0000 .0011 .0022 .0033 .0044 nan
1925.0 1925.5 .0005 .0016 .0027 .0038 nan nan
1926.0 1926.5 .0000 .0011 .0022 .0033 .0044 nan
1927.0 1927.5 .0005 .0016 .0027 .0038 .0049 .0060
1928.0 1928.5 .0000 .0011 .0022 .0033 .0044 .0055
1929.0 1929.5 .0005 .0016 .0027 .0038 .0049 .0060
1930.0 1930.5 .0000 .0011 .0022 .0033 .0044 .0055
1931.0 1931.5 .0005 .0016 .0027 .0038 .0049 .0060
1932.0 1932.5 .0000 .0011 .0022 .0033 .0044 .0055
1933.0 1933.5 .0005 .0016 .0027 .0038 .0049 .0060
1934.0 1934.5 .0000 .0011 .0022 .0033 .0044 .0055
1935.0 1935.5 .0005 .0016 .0027 .0038 .0049 .0060
1936.0 1936.5 .0000 .0011 .0022 .0033 .0044 .0055
1937.0 1937.5 .0005 .0016 .0027 .0038 .0049 .0060
1938.0 1938.5 .0000 .0011 .0022 .0033 .0044 .0055
1939.0 1939.5 .0005 .0016 .0027 .0038 .0049 .0060
1940.0 1940.5 .0000 .0011 .0022 .0033 .0044 .0055
1941.0 1941.5 .0005 .0016 .0027 .0038 .0049 .0060
1942.0 1942.5 .0000 .0011 .0022 .0033 .0044 .0055
1943.0 1943.5 .0005 .0016 .0027 .0038 .0049 .0060
1944.0 1944.5 .0000 .0011 .0022 .0033 .0044 .0055
1945.0 1945.5 .0005 .0016 .0027 .0038 .0049 .0060
1946.0 1946.5 .0000 .0011 .0022 .0033 .0044 .0055
1947.0 1947.5 .0005 .0016 .0027 .0038 .0049 .0060
1948.0 1948.5 .0000 .0011 .0022 .0033 .0044 .0055
1949.0 1949.5 .0005 .0016 .0027 .0038 .0049 .0060
1950.0 1950.5 .0000 .0011 .0022 .0033 .0044 .0055
1951.0 1951.5 .0005 .0016 .0027 .0038 .0049 .0060
1952.0 1952.5 .0000 .0011 .0022 .0033 .0044 .0055
1953.0 1953.5 .0005 .0016 .0027 .0038 .0049 .0060
1954.0 1954.5 .0000 .0011 .0022 .0033 .0044 .0055
1955.0 1955.5 .0005 .0016 .0027 .0038 .0049 .0060
1956.0 1956.5 .0000 .0011 .0022 .0033 .0044 .0055
1957.0 1957.5 .0005 .0016 .0027 .0038 .0049 nan
1958.0 1958.5 .0000 .0011 .0022 .0033 .0044 nan
1959.0 1959.5 .0005 .0016 .0027 .0038 .0049 .0060
1960.0 1960.5 .0000 .0011 .0022 .0033 .0044 .0055
1961.0 1961.5 .0005 .0016 .0027 .0038 .0049 .0060
1962.0 1962.5 .0000 .0011 .0022 .0033 .0044 .0055
1963.0 1963.5 .0005 .0016 .0027 .0038 .0049 .0060
1964.0 1964.5 .0000 .0011 .0022 .0033 .0044 .0055
1965.0 1965.5 .0005 .0016 .0027 .0038 .0049 .0060
1966.0 1966.5 .0000 .0011 .0022 .0033 nan nan
1967.0 1967.5 .0005 .0016 .0027 nan nan nan
1968.0 1968.5 .0000 .0011 .0022 .0033 nan nan
1969.0 1969.5 .0005 .0016 .0027 .0038 .0049 .0060
1970.0 1970.5 .0000 .0011 .0022 .0033 .0044 .0055
1971.0 1971.5 .0005 .0016 .0027 .0038 .0049 .0060
1972.0 1972.5 .0000 .0011 .0022 .0033 .0044 .0055
1973.0 1973.5 .0005 .0016 .0027 .0038 nan nan
1974.0 1974.5 .0000 .0011 .0022 .0033 .0044 nan
1975.0 1975.5 .0005 .0016 .0027 .0038 nan nan
1976.0 1976.5 .0000 .0011 .0022 .0033 .0044 nan
1977.0 1977.5 .0005 .0016 .0027 .0038 .0049 nan
1978.0 1978.5 .0000 .0011 .0022 .0033 .0044 .0055
1979.0 1979.5 .0005 .0016 .0027 .0038 .0049 .0060
1980.0 1980.5 .0000 .0011 .0022 .0033 .0044 .0055
1981.0 1981.5 .0005 .0016 .0027 .0038 .0049 .0060
1982.0 1982.5 .0000 .0011 .0022 .0033 .0044 .0055
1983.0 1983.5 .0005 .0016 .0027 .0038 .0049 .0060
1984.0 1984.5 .0000 .0011 .0022 .0033 .0044 .0055
1985.0 1985.5 .0005 .0016 .0027 .0038 .0049 .0060
}\tF
\pgfplotstableread{
x a b c d e f g h i j
1916.0 .0066 .0077 .0088 .0099 .0110 .0121 nan nan nan nan
1916.5 .0071 .0082 .0093 .0104 .0115 .0126 .0140 nan nan nan
1917.0 .0070 .0081 .0092 .0103 .0114 .0125 .0136 .0150 .0165 nan
1917.5 .0066 .0077 .0088 .0099 .0110 .0121 .0132 .0145 .0160 nan
1918.0 .0066 .0077 .0088 .0099 .0110 .0121 .0132 .0143 .0155 .0170
1918.5 .0071 .0082 .0093 .0104 .0115 .0126 .0137 .0150 nan nan
1919.0 .0070 .0081 .0092 .0103 .0114 .0125 .0136 .0150 .0165 nan
1919.5 .0066 .0077 .0088 .0099 .0110 .0121 .0132 .0145 nan nan
1920.0 .0066 .0077 .0088 .0099 .0110 .0121 .0132 .0143 .0160 nan
1920.5 .0071 .0082 .0093 .0104 .0115 .0126 .0137 nan nan nan
1921.0 .0070 .0081 .0092 .0103 .0114 .0125 .0136 .0150 nan nan
1921.5 .0066 .0077 .0088 .0099 .0110 .0121 .0132 .0145 nan nan
1922.0 .0066 .0077 .0088 .0099 .0110 .0121 .0132 .0143 .0160 .0175
1922.5 .0071 .0082 .0093 .0104 .0115 .0126 .0140 nan nan nan
1923.0 .0070 .0081 .0092 .0103 .0114 nan nan nan nan nan
}\tFu
\pgfplotstableread[row sep=\\]{
x y\\
1928.0 .0066\\1928.0 .0077\\1928.0 .0088\\1929.0 .0070\\1930.0 .0066\\1932.0 .0066\\
1932.0 .0077\\1932.0 .0088\\1933.0 .0070\\1933.0 .0081\\1936.0 .0066\\1937.0 .0070\\
1940.0 .0066\\1940.0 .0077\\1941.0 .0070\\1942.0 .0066\\1942.0 .0077\\1947.0 .0066\\
1947.0 .0077\\1948.0 .0070\\1948.0 .0081\\1949.0 .0066\\1949.0 .0077\\1949.0 .0088\\
1950.0 .0070\\1950.0 .0081\\1950.0 .0092\\1951.0 .0066\\1951.0 .0077\\1959.0 .0066\\
1959.0 .0077\\1959.0 .0088\\1960.0 .0070\\1960.0 .0081\\1960.0 .0092\\1960.0 .0103\\
1960.0 .0114\\1961.0 .0066\\1961.0 .0077\\1961.0 .0088\\1961.0 .0099\\1962.0 .0070\\
1962.0 .0081\\1963.0 .0066\\1979.0 .0066\\1981.0 .0066\\1981.0 .0077\\1982.0 .0070\\
1983.0 .0066\\
}\tFd
\pgfplotstableread[row sep=\\]{
x y\\
1919.3 .0247\\1922.0 .0250\\1917.5 .0216\\1917.9 .0204\\1921.8 .0206\\1920.2 .0191\\
1918.8 .0184\\1922.1 .0182\\1925.2 .0147\\1926.1 .0096\\1928.0 .0119\\1929.4 .0111\\
1932.2 .0134\\1931.3 .0104\\1933.6 .0106\\1935.2 .0092\\1937.5 .0099\\1940.6 .0092\\
1941.5 .0115\\1941.9 .0111\\1942.5 .0091\\1947.5 .0182\\1948.2 .0182\\1947.5 .0153\\
1948.2 .0122\\1948.3 .0103\\1950.6 .0109\\1952.5 .0101\\1954.2 .0105\\1957.1 .0146\\
1960.0 .0189\\1960.1 .0166\\1960.2 .0173\\1959.8 .0143\\1962.3 .0124\\1961.0 .0147\\
1966.5 .0078\\1968.9 .0091\\1971.6 .0086\\1973.2 .0068\\1979.8 .0099\\1981.2 .0209\\
1981.4 .0088\\1978.4 .0088\\1984.6 .0099\\1976.8 .0065\\
}\tFo

\begin{document}
\begin{tikzpicture}
\useasboundingbox (0,0) rectangle (626pt,619pt);

% ===== a =====
\begin{axis}[panel, at={(50.5pt,456.25pt)},
  xmin=1931.95, xmax=1974.67, ymin=-0.00014, ymax=0.0102,
  xtick={1930,1940,1950,1960,1970,1980}, minor x tick num=4,
  ytick={0,0.002,0.004,0.006,0.008,0.010}, minor y tick num=3,
  yprec=3, ylx=-0.151]
\pgfplotsinvokeforeach{a,b,c,d,e,f,g,h}{\addplot[pmd] table[x=x,y=#1]{\tA};\addplot[pmd] table[x=u,y=#1]{\tA};}
\addplot[pm] table[x=x,y=y]{\tAo};
\addplot[rl] coordinates {(1931.95,.0005)(1932.6,.0007)(1933.5,.0013)(1934.5,.0010)(1935.3,.0030)(1936.9,.0024)(1937.4,.0015)(1938.4,.0011)(1939.5,.0005)(1940.2,.0008)(1941.7,.0002)(1942.6,.0005)(1943.5,.0002)(1944.5,.0001)(1945.5,.0001)(1946.6,.0001)(1947.4,.0000)(1948.5,.0000)(1949.4,.0004)(1950.4,.0005)(1951.5,.0002)(1952.4,.0003)(1953.4,.0005)(1954.3,.0007)(1955.5,.0009)(1956.5,.0016)(1957.5,.0012)(1958.5,.0008)(1959.5,.0010)(1960.4,.0014)(1961.4,.0011)};
\addplot[rl] coordinates {(1963.9,.0011)(1964.5,.0009)(1965.6,.0006)(1966.4,.0009)(1967.5,.0006)(1968.5,.0008)(1969.6,.0010)(1970.6,.0014)(1971.5,.0015)(1972.4,.0017)(1973.8,.0008)(1974.6,.0012)};
\plab{0.292}{a)\hspace{0.45em}Ar}
\end{axis}

% ===== b =====
\begin{axis}[panel, at={(371.75pt,456.25pt)},
  xmin=1907.1, xmax=1999.2, ymin=-0.0004, ymax=0.0305,
  xtick={1900,1920,1940,1960,1980,2000}, minor x tick num=3,
  ytick={0,0.01,0.02,0.03}, minor y tick num=9,
  yprec=2, ylx=-0.131]
\pgfplotsinvokeforeach{a,b,c,d,e}{\addplot[pmd] table[x=x,y=#1]{\tB};\addplot[pmd] table[x=u,y=#1]{\tB};}
\pgfplotsinvokeforeach{a,b,c,d,e,f,g}{\addplot[pmd] table[x=x,y=#1]{\tBu};}
\addplot[pm] table[x=x,y=y]{\tBo};
\addplot[rl] coordinates {(1907.5,.0017)(1908.6,.0000)(1914.0,.0000)(1914.5,-.0003)(1915.6,.0001)(1918.5,.0000)(1920.0,.0001)(1922.4,.0008)(1923.3,.0001)(1924.3,.0000)(1925.2,.0001)(1926.0,.0001)};
\addplot[rl] coordinates {(1928.5,.0006)(1930.3,.0007)(1931.4,.0003)(1933.2,.0002)(1935.4,.0007)(1936.8,.0005)(1938.4,.0003)(1939.9,.0004)(1941.3,.0016)(1942.4,.0011)(1943.5,.0005)(1945.4,.0011)(1946.3,.0008)(1947.4,.0009)(1949.4,.0021)(1951.6,.0009)(1952.7,.0009)(1954.2,.0014)(1956.4,.0014)(1957.5,.0021)(1959.3,.0042)(1960.4,.0042)(1961.8,.0020)(1962.3,.0023)(1964.5,.0010)(1965.2,.0014)(1966.3,.0009)(1968.2,.0009)(1969.3,.0012)(1970.4,.0041)(1971.5,.0023)(1972.6,.0027)(1973.4,.0022)(1975.1,.0016)(1976.3,.0025)(1978.1,.0020)(1979.2,.0047)(1980.3,.0058)(1981.4,.0042)(1982.5,.0064)(1983.2,.0049)(1984.3,.0057)(1986.3,.0032)(1987.3,.0039)(1988.4,.0029)(1989.9,.0049)(1991.0,.0012)(1992.1,.0028)(1993.2,.0018)(1994.3,.0020)(1995.2,.0019)(1996.1,.0024)(1998.1,.0055)(1999.0,.0014)};
\plab{0.296}{b)\hspace{0.45em}Ko}
\end{axis}

% ===== c =====
\begin{axis}[panel, at={(50.5pt,246pt)},
  xmin=1948.2, xmax=1979.0, ymin=-0.0002, ymax=0.0153,
  xtick={1945,1950,1955,1960,1965,1970,1975,1980}, minor x tick num=4,
  ytick={0,0.005,0.010,0.015}, minor y tick num=4,
  yprec=3, ylx=-0.151]
\pgfplotsinvokeforeach{a,b,c,d,e,f,g,h}{\addplot[pmd] table[x=x,y=#1]{\tC};\addplot[pmd] table[x=u,y=#1]{\tC};}
\pgfplotsinvokeforeach{a,b,c,d,e,f,g,h}{\addplot[pmd] table[x=x,y=#1]{\tCu};}
\addplot[pm] table[x=x,y=y]{\tCo};
\addplot[rl] coordinates {(1948.5,.0032)(1949.4,.0018)(1950.5,.0010)(1951.5,.0012)(1952.5,.0029)(1953.5,.0039)(1954.2,.0019)(1955.5,.0015)(1956.5,.0024)(1957.4,.0014)(1958.1,.0014)(1959.4,.0022)(1960.5,.0022)(1961.6,.0013)(1962.4,.0019)(1963.4,.0022)(1964.5,.0018)(1965.5,.0018)(1966.4,.0021)(1967.5,.0017)(1968.5,.0015)(1969.5,.0013)(1970.4,.0028)};
\addplot[rl] coordinates {(1974.7,.0031)(1975.1,.0019)};
\addplot[rl] coordinates {(1978.5,.0031)(1979.0,.0029)};
\plab{0.315}{c)\hspace{0.45em}MM}
\end{axis}

% ===== d =====
\begin{axis}[panel, at={(371.75pt,246pt)},
  xmin=1893.9, xmax=2002.9, ymin=-0.00014, ymax=0.0102,
  xtick={1880,1900,1920,1940,1960,1980,2000,2020}, minor x tick num=3,
  ytick={0,0.002,0.004,0.006,0.008,0.010}, minor y tick num=3,
  yprec=3, ylx=-0.157]
\pgfplotsinvokeforeach{a,b,c,d,e,f,g,h,i}{\addplot[pmd] table[x=x,y=#1]{\tD};\addplot[pmd] table[x=u,y=#1]{\tD};}
\pgfplotsinvokeforeach{a,b,c,d,e,f,g,h,i}{\addplot[pmd] table[x=x,y=#1]{\tDu};}
\addplot[pm] table[x=x,y=y]{\tDo};
\addplot[rl,line width=1.2pt] coordinates {(1894.2,.0017)(1895.2,.0012)};
\addplot[rl,line width=1.2pt] coordinates {(1897.0,.0023)(1898.0,-.0002)(1898.9,.0001)(1900.1,.0046)};
\addplot[rl,line width=1.2pt] coordinates {(1902.0,.0021)(1903.0,.0044)(1904.1,.0066)(1905.2,.0006)(1906.1,.0011)(1907.0,.0033)(1907.8,.0013)(1909.1,.0002)(1910.4,.0009)(1911.0,.0012)(1912.2,.0005)(1913.0,.0009)(1913.9,.0009)};
\addplot[rl,line width=1.2pt] coordinates {(1919.1,.0003)(1921.1,.0025)(1923.0,.0019)(1924.8,.0014)(1925.5,.0013)(1926.1,.0007)(1927.2,.0005)(1928.7,.0006)(1930.0,.0007)(1931.0,.0015)(1933.0,.0009)(1933.9,.0012)(1935.0,.0012)(1936.1,.0007)(1937.8,.0008)(1939.1,.0009)(1940.0,.0006)(1941.1,.0012)(1942.0,.0006)(1943.0,.0004)(1944.3,.0002)(1945.2,.0001)(1946.1,.0009)(1947.1,.0004)(1948.1,.0012)(1949.1,.0006)};
\addplot[rl,line width=1.2pt] coordinates {(1951.3,.0016)(1952.2,.0023)(1953.0,.0002)(1954.2,.0032)(1955.2,.0026)(1956.3,.0011)(1957.4,.0006)(1959.1,.0006)(1960.4,.0007)(1961.3,.0003)(1962.2,.0032)(1963.0,.0015)};
\addplot[rl,line width=1.2pt] coordinates {(1965.2,.0007)(1966.3,.0015)(1967.2,.0015)(1968.1,.0025)(1969.1,.0004)(1971.3,.0010)(1973.0,.0016)(1974.3,.0024)(1975.7,.0026)(1976.3,.0026)(1977.1,.0034)(1978.0,.0014)(1979.1,.0011)(1980.3,.0010)(1981.1,.0013)(1982.2,.0010)(1983.2,.0010)(1984.1,.0012)(1985.7,.0009)(1986.5,.0008)(1988.3,.0010)(1988.9,-.0001)(1991.3,-.0001)(1992.2,.0003)(1993.5,.0002)(1994.8,.0002)(1996.1,.0004)(1997.1,.0000)(1998.3,.0001)(2000.0,-.0001)(2001.3,.0000)(2002.2,.0000)};
\plab{0.300}{d)\hspace{0.45em}Me}
\end{axis}

% ===== e =====
\begin{axis}[panel, at={(50.5pt,36pt)},
  xmin=1917.0, xmax=1974.3, ymin=-0.0003, ymax=0.0305,
  xtick={1910,1920,1930,1940,1950,1960,1970,1980}, minor x tick num=4,
  ytick={0,0.01,0.02,0.03}, minor y tick num=9,
  yprec=2, ylx=-0.131]
\pgfplotsinvokeforeach{a,b,c,d,e,f,g,h}{\addplot[pbd] table[x=x,y=#1]{\tEb};\addplot[pbd] table[x=u,y=#1]{\tEb};}
\addplot[pb] table[x=x,y=y]{\tEbo};
\addplot[pm] table[x=x,y=y]{\tEk};
\pgfplotsinvokeforeach{a,b,c,d,e,f,g,h}{\addplot[pmd] table[x=x,y=#1]{\tEd};\addplot[pmd] table[x=u,y=#1]{\tEd};}
\pgfplotsinvokeforeach{a,b,c,d,e,f}{\addplot[pmd] table[x=x,y=#1]{\tEu};}
\addplot[yl] coordinates {(1917.0,.0028)(1918.5,.0046)(1919.4,.0073)(1920.3,.0045)(1921.0,.0045)(1922.3,.0082)(1923.7,.0002)(1924.3,.0089)(1925.4,.0052)(1926.7,.0007)(1927.5,.0019)(1928.2,.0020)(1930.1,.0070)};
\addplot[yl] coordinates {(1936.0,.0029)(1937.8,.0077)(1938.7,.0065)(1939.6,.0103)(1940.5,.0077)(1941.4,.0067)(1942.5,.0076)(1943.5,.0075)(1944.2,.0062)(1945.7,.0103)(1946.5,.0083)(1947.4,.0082)(1948.3,.0090)(1949.4,.0074)(1950.3,.0085)(1950.8,.0038)(1951.4,-.0010)};
\addplot[yl] coordinates {(1957.9,.0008)(1959.8,.0060)(1960.5,.0002)};
\addplot[rl] coordinates {(1917.0,.0020)(1919.1,.0048)(1919.9,.0044)(1921.0,.0031)(1922.0,.0046)(1923.3,.0025)(1924.1,.0039)(1925.5,.0033)(1926.9,.0004)(1927.3,.0018)(1928.1,.0016)(1929.2,.0035)(1930.1,.0059)};
\addplot[rl] coordinates {(1933.3,.0015)(1934.2,.0015)(1935.1,.0000)(1936.0,.0010)(1937.2,.0029)};
\addplot[rl] coordinates {(1939.4,.0036)(1940.4,.0040)(1941.1,.0052)(1942.1,.0036)(1943.1,.0052)(1944.1,.0059)(1945.1,.0051)(1946.2,.0052)(1947.1,.0048)(1948.0,.0051)(1949.1,.0050)(1950.1,.0048)(1951.0,.0056)};
\addplot[rl] coordinates {(1953.2,.0031)(1954.1,.0053)(1955.0,.0042)};
\addplot[rl] coordinates {(1957.3,.0013)(1958.2,.0003)(1959.3,.0057)(1960.8,.0008)(1961.7,.0013)(1962.7,.0012)(1963.8,.0038)(1964.7,.0016)(1965.6,.0029)(1967.0,.0057)(1967.7,.0057)(1968.7,.0062)(1969.5,.0052)(1970.5,.0088)(1971.6,.0093)(1972.8,.0113)(1973.7,.0092)(1974.3,.0070)};
\plab{0.290}{e)\hspace{0.45em}Mi}
\end{axis}

% ===== f =====
\begin{axis}[panel, at={(371.75pt,36pt)},
  xmin=1915.7, xmax=1985.6, ymin=-0.0003, ymax=0.0305,
  xtick={1910,1920,1930,1940,1950,1960,1970,1980,1990}, minor x tick num=4,
  ytick={0,0.01,0.02,0.03}, minor y tick num=9,
  yprec=2, ylx=-0.131]
\pgfplotsinvokeforeach{a,b,c,d,e,f}{\addplot[pmd] table[x=x,y=#1]{\tF};\addplot[pmd] table[x=u,y=#1]{\tF};}
\pgfplotsinvokeforeach{a,b,c,d,e,f,g,h,i,j}{\addplot[pmd] table[x=x,y=#1]{\tFu};}
\addplot[pmd] table[x=x,y=y]{\tFd};
\addplot[pm] table[x=x,y=y]{\tFo};
\addplot[rl] coordinates {(1915.7,.0044)(1916.5,.0054)(1917.5,.0091)(1918.5,.0090)(1919.3,.0073)(1920.3,.0079)(1921.5,.0075)(1922.4,.0088)(1923.0,.0055)(1923.7,.0029)(1924.4,.0016)(1925.7,.0011)(1926.7,.0013)(1927.7,.0033)(1928.5,.0023)(1929.6,.0021)(1930.5,.0016)(1932.4,.0029)(1933.6,.0018)(1934.7,.0010)(1935.6,.0008)(1936.6,.0021)(1937.6,.0015)(1939.4,.0008)(1940.4,.0014)(1941.6,.0016)(1943.3,.0016)(1944.4,.0013)(1945.5,.0009)(1947.5,.0005)(1948.3,.0015)(1949.6,.0019)(1950.5,.0016)(1951.4,.0007)(1952.5,.0018)(1953.4,.0007)(1955.3,.0006)(1956.7,.0002)(1957.7,-.0004)(1959.5,.0015)(1960.5,.0031)(1961.4,.0018)(1962.6,.0012)(1963.7,.0012)(1964.5,.0008)(1965.5,-.0001)(1966.5,.0002)(1967.6,.0000)(1968.5,.0010)(1969.4,.0008)(1970.4,.0008)(1971.5,.0002)(1972.6,.0005)(1973.7,.0006)(1974.6,.0010)(1975.7,.0007)(1976.7,.0008)(1977.8,.0020)(1978.7,.0000)(1979.7,.0010)(1980.8,.0023)(1981.5,.0025)(1982.5,.0023)(1983.5,.0030)(1984.3,.0023)(1985.4,.0025)};
\plab{0.307}{f)\hspace{0.45em}MW}
\end{axis}
\end{tikzpicture}
\end{document}
